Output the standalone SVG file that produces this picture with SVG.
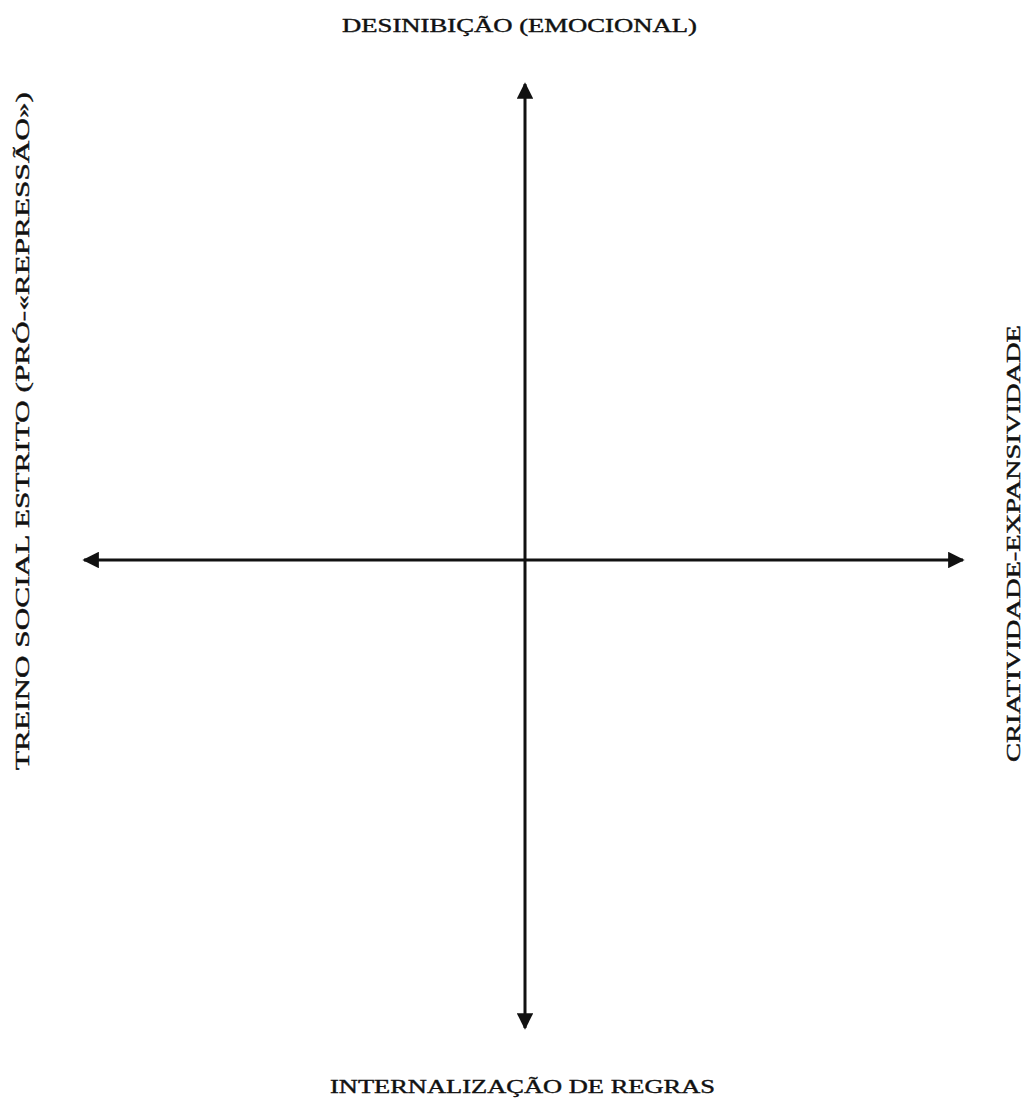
<svg xmlns="http://www.w3.org/2000/svg" width="1033" height="1100" viewBox="0 0 1033 1100">
<style>
.lbl{font-family:"Liberation Serif","DejaVu Serif",serif;font-size:19px;fill:#111;stroke:#111;stroke-width:0.4;}
.axis{stroke:#111;stroke-width:3;fill:none;}
</style>
<defs>
<marker id="ah" viewBox="0 0 10 10" refX="9" refY="5" markerWidth="5.5" markerHeight="5.5" markerUnits="strokeWidth" orient="auto">
<path d="M0,0 L10,5 L0,10 Z" fill="#111"/>
</marker>
</defs>
<rect width="1033" height="1100" fill="#fff"/>
<g id="connectors">
<line class="axis" x1="525" y1="561" x2="525" y2="84" marker-end="url(#ah)"/>
<line class="axis" x1="525" y1="561" x2="525" y2="1028" marker-end="url(#ah)"/>
<line class="axis" x1="525" y1="560" x2="84" y2="560" marker-end="url(#ah)"/>
<line class="axis" x1="525" y1="560" x2="963" y2="560" marker-end="url(#ah)"/>
</g>
<g id="top">
<text class="lbl" x="342" y="32" textLength="355" lengthAdjust="spacingAndGlyphs">DESINIBIÇÃO (EMOCIONAL)</text>
</g>
<g id="bottom">
<text class="lbl" x="330" y="1093" textLength="385" lengthAdjust="spacingAndGlyphs">INTERNALIZAÇÃO DE REGRAS</text>
</g>
<g id="left">
<text class="lbl" transform="translate(29,770) rotate(-90)" x="0" y="0" textLength="678" lengthAdjust="spacingAndGlyphs">TREINO SOCIAL ESTRITO (PRÓ-«REPRESSÃO»)</text>
</g>
<g id="right">
<text class="lbl" transform="translate(1020,762) rotate(-90)" x="0" y="0" textLength="437" lengthAdjust="spacingAndGlyphs">CRIATIVIDADE-EXPANSIVIDADE</text>
</g>
</svg>
